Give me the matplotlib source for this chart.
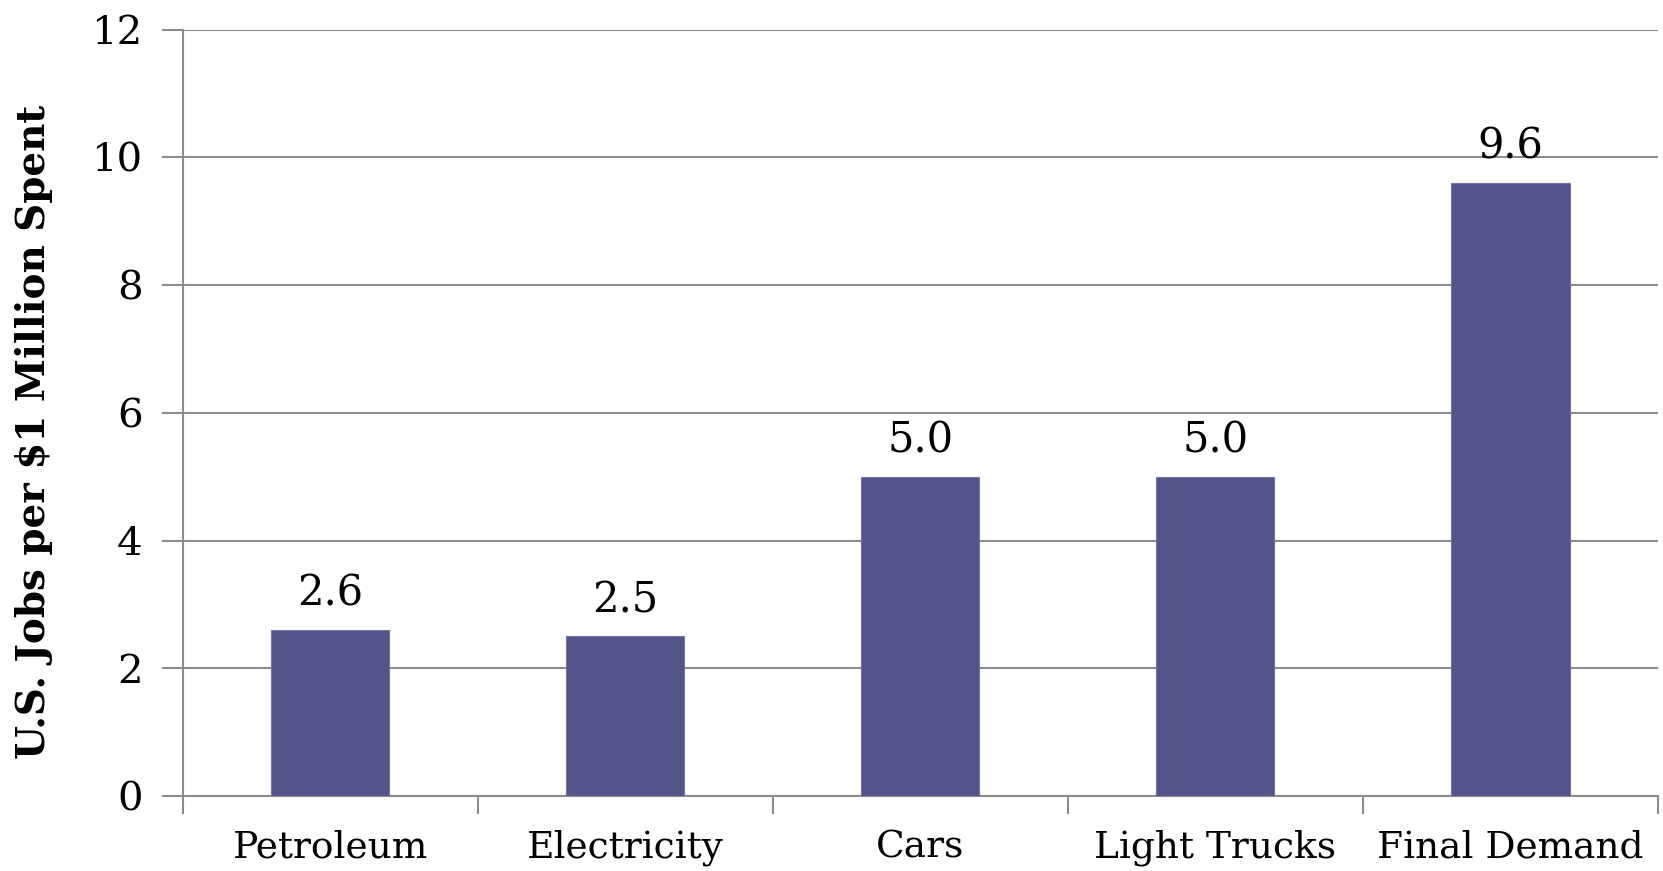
import matplotlib.pyplot as plt

categories = ["Petroleum", "Electricity", "Cars", "Light Trucks", "Final Demand"]
jobs = [2.6, 2.5, 5.0, 5.0, 9.6]
yticks = [0, 2, 4, 6, 8, 10, 12]

BAR_COLOR = "#535487"
GRID_COLOR = "#8c8c8c"

plt.rcParams["font.family"] = "DejaVu Serif"

fig = plt.figure(figsize=(16.63, 8.71), dpi=100)
ax = fig.add_axes([0.110, 0.086, 0.887, 0.880])

x = range(len(categories))
bars = ax.bar(x, jobs, width=0.4, color=BAR_COLOR, edgecolor="#7374a3",
              linewidth=0.8, zorder=3)

for rect, v in zip(bars, jobs):
    ax.annotate(f"{v:.1f}", (rect.get_x() + rect.get_width() / 2, v),
                xytext=(0, 11), textcoords="offset points",
                ha="center", va="bottom", fontsize=30)

ax.set_xlim(-0.5, len(categories) - 0.5)
ax.set_ylim(0, 12)
ax.set_yticks(yticks)
ax.set_yticklabels([str(t) for t in yticks], fontsize=29)
ax.set_xticks(x)
ax.set_xticklabels(categories, fontsize=27)
ax.set_xticks([i + 0.5 for i in range(-1, len(categories))], minor=True)

ax.yaxis.grid(True, color=GRID_COLOR, linewidth=1.5, zorder=0)
ax.tick_params(axis="y", length=15, width=1.5, color=GRID_COLOR, pad=14)
ax.tick_params(axis="x", which="major", length=0, pad=24)
ax.tick_params(axis="x", which="minor", length=13, width=1.5, color=GRID_COLOR)

for side in ["top", "right"]:
    ax.spines[side].set_visible(False)
for side in ["left", "bottom"]:
    ax.spines[side].set_color(GRID_COLOR)
    ax.spines[side].set_linewidth(1.5)

ax.set_ylabel("U.S. Jobs per $1 Million Spent", fontsize=28,
              fontweight="bold")
ax.yaxis.set_label_coords(-0.088, 0.475)

fig.savefig("out.png", dpi=100)
